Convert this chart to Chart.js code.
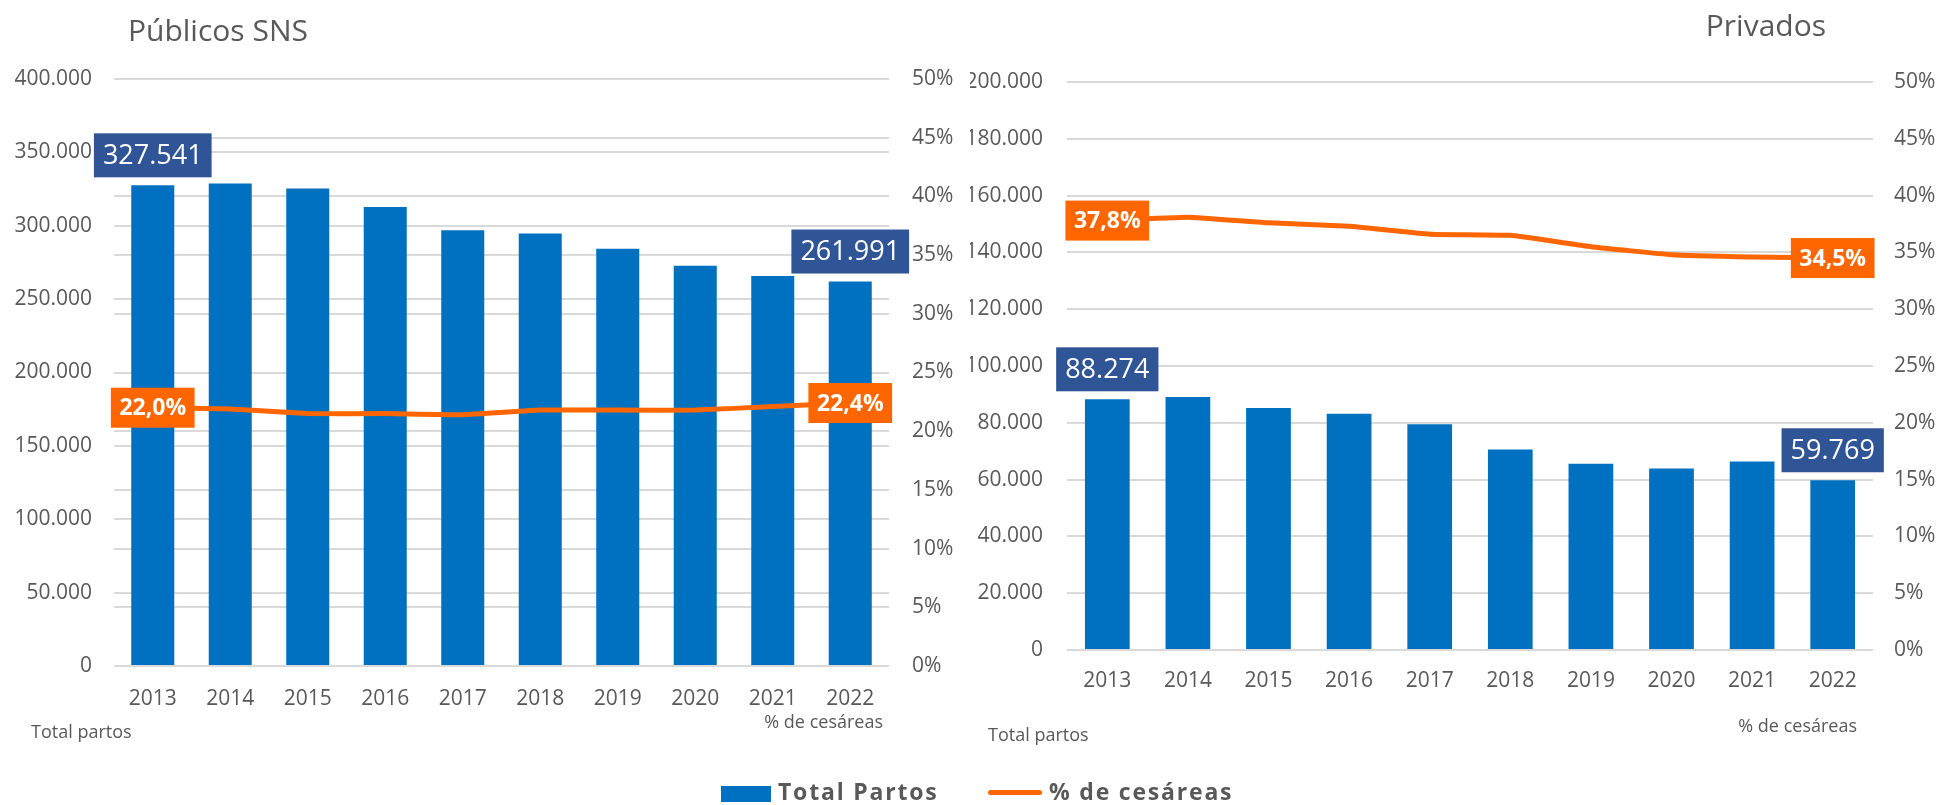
<!DOCTYPE html>
<html>
<head>
<meta charset="utf-8">
<script src="https://cdn.jsdelivr.net/npm/chart.js@4.4.1/dist/chart.umd.min.js"></script>
<style>
  body { margin: 0; background: #fff; font-family: "Open Sans", sans-serif; }
  #wrap { position: relative; width: 1941px; height: 805px; overflow: hidden; }
  canvas { position: absolute; top: 0; }
  #leftChart { left: 0; }
  #rightChart { left: 970px; }
  .leg { position: absolute; font-weight: 700; font-size: 23px; color: #595959; line-height: 1; white-space: nowrap; letter-spacing: 1.8px; }
</style>
</head>
<body>
<div id="wrap">
  <canvas id="leftChart" width="970" height="805"></canvas>
  <canvas id="rightChart" width="971" height="805"></canvas>
  <div style="position:absolute;left:721px;top:786px;width:50px;height:16px;background:#0070C0"></div>
  <div class="leg" style="left:778px;top:780px">Total Partos</div>
  <div style="position:absolute;left:988px;top:790px;width:54px;height:5px;border-radius:3px;background:#FF6600"></div>
  <div class="leg" style="left:1049px;top:780px">% de cesáreas</div>
</div>
<script>
const years = ['2013', '2014', '2015', '2016', '2017', '2018', '2019', '2020', '2021', '2022'];

// Públicos SNS
const publicosPartos = [327541, 328800, 325400, 312700, 297000, 294800, 284300, 272700, 265700, 261991];
const publicosCesareas = [22.0, 21.9, 21.5, 21.5, 21.4, 21.8, 21.8, 21.8, 22.1, 22.4];

// Privados
const privadosPartos = [88274, 89100, 85200, 83200, 79500, 70600, 65600, 63900, 66400, 59769];
const privadosCesareas = [37.8, 38.1, 37.6, 37.3, 36.6, 36.5, 35.5, 34.8, 34.6, 34.5];

const publicosMax = 400000, publicosStep = 50000;
const privadosMax = 200000, privadosStep = 20000;
const pctMax = 50, pctStep = 5;

const BLUE = '#0070C0';
const DARK_BLUE = '#2F5597';
const ORANGE = '#FF6600';
const GREY = '#595959';
const FONT = "'Open Sans', sans-serif";

Chart.defaults.font.family = FONT;
Chart.defaults.color = GREY;

function fmtInt(v) {
  return String(Math.round(v)).replace(/\B(?=(\d{3})+(?!\d))/g, '.');
}
function fmtPct(v) {
  return v.toFixed(1).replace('.', ',') + '%';
}

// boxes with the value of the first and last year
const endLabels = {
  id: 'endLabels',
  afterDatasetsDraw(chart) {
    const ctx = chart.ctx;
    chart.data.datasets.forEach((ds, i) => {
      const meta = chart.getDatasetMeta(i);
      const last = meta.data.length - 1;
      [0, last].forEach(idx => {
        const el = meta.data[idx];
        const isBar = ds.type === 'bar';
        const text = isBar ? fmtInt(ds.data[idx]) : fmtPct(ds.data[idx]);
        ctx.save();
        ctx.font = isBar ? '500 27px ' + FONT : '700 23px ' + FONT;
        const w = ctx.measureText(text).width + (isBar ? 18 : 17);
        const h = isBar ? 44 : 40;
        const cx = el.x;
        const cy = isBar ? el.y - 8 - h / 2 : el.y;
        ctx.fillStyle = isBar ? DARK_BLUE : ORANGE;
        ctx.fillRect(cx - w / 2, cy - h / 2, w, h);
        ctx.fillStyle = '#fff';
        ctx.textAlign = 'center';
        ctx.textBaseline = 'middle';
        ctx.fillText(text, cx, cy + 1);
        ctx.restore();
      });
    });
  }
};

// title and the small axis notes
const notes = {
  id: 'notes',
  afterDraw(chart, args, opts) {
    const ctx = chart.ctx;
    ctx.save();
    ctx.fillStyle = GREY;
    ctx.textBaseline = 'alphabetic';
    ctx.font = '500 30px ' + FONT;
    ctx.textAlign = opts.titleAlign;
    ctx.fillText(opts.title, opts.titleX, opts.titleY);
    ctx.font = '18px ' + FONT;
    ctx.textAlign = 'left';
    ctx.fillText('Total partos', opts.leftX, opts.leftY);
    ctx.textAlign = 'right';
    ctx.fillText('% de cesáreas', opts.rightX, opts.rightY);
    ctx.restore();
  }
};

function makeChart(id, cfg) {
  return new Chart(document.getElementById(id), {
    data: {
      labels: years,
      datasets: [{
        type: 'line',
        label: '% de cesáreas',
        data: cfg.pct,
        yAxisID: 'y1',
        borderColor: ORANGE,
        borderWidth: 5,
        pointRadius: 0,
        tension: 0.1,
        borderCapStyle: 'round',
        order: 0
      }, {
        type: 'bar',
        label: 'Total Partos',
        data: cfg.partos,
        yAxisID: 'y',
        backgroundColor: BLUE,
        categoryPercentage: 1,
        barPercentage: 0.555,
        order: 1
      }]
    },
    options: {
      responsive: false,
      animation: false,
      layout: { padding: { top: cfg.top, left: 0, right: 0, bottom: 0 } },
      plugins: {
        legend: { display: false },
        tooltip: { enabled: false },
        notes: cfg.notes
      },
      scales: {
        x: {
          grid: { display: false },
          border: { display: false },
          ticks: { font: { size: 21 }, padding: cfg.xPad },
          afterFit: s => { s.height = cfg.xHeight; }
        },
        y: {
          position: 'left',
          min: 0,
          max: cfg.max,
          grid: { color: '#D9D9D9', lineWidth: 2, drawTicks: false },
          border: { display: false },
          ticks: { stepSize: cfg.step, font: { size: 21 }, padding: cfg.yPad, callback: v => fmtInt(v) },
          afterFit: s => { s.width = cfg.yWidth; }
        },
        y1: {
          position: 'right',
          min: 0,
          max: pctMax,
          grid: { display: cfg.pctGrid, color: '#D9D9D9', lineWidth: 2, drawTicks: false },
          border: { display: false },
          ticks: { stepSize: pctStep, font: { size: 21 }, padding: cfg.y1Pad, callback: v => v + '%' },
          afterFit: s => { s.width = cfg.y1Width; }
        }
      }
    },
    plugins: [endLabels, notes]
  });
}

makeChart('leftChart', {
  partos: publicosPartos,
  pct: publicosCesareas,
  max: publicosMax,
  step: publicosStep,
  top: 79,
  xHeight: 139,
  xPad: 12,
  yWidth: 114,
  yPad: 22,
  y1Width: 81,
  y1Pad: 23,
  pctGrid: true,
  notes: { title: 'Públicos SNS', titleX: 128, titleY: 41, titleAlign: 'left', leftX: 31, leftY: 738, rightX: 883, rightY: 728 }
});

makeChart('rightChart', {
  partos: privadosPartos,
  pct: privadosCesareas,
  max: privadosMax,
  step: privadosStep,
  top: 82,
  xHeight: 155,
  xPad: 10,
  yWidth: 97,
  yPad: 24,
  y1Width: 68,
  y1Pad: 21,
  pctGrid: false,
  notes: { title: 'Privados', titleX: 856, titleY: 36, titleAlign: 'right', leftX: 18, leftY: 741, rightX: 887, rightY: 732 }
});
</script>
</body>
</html>
